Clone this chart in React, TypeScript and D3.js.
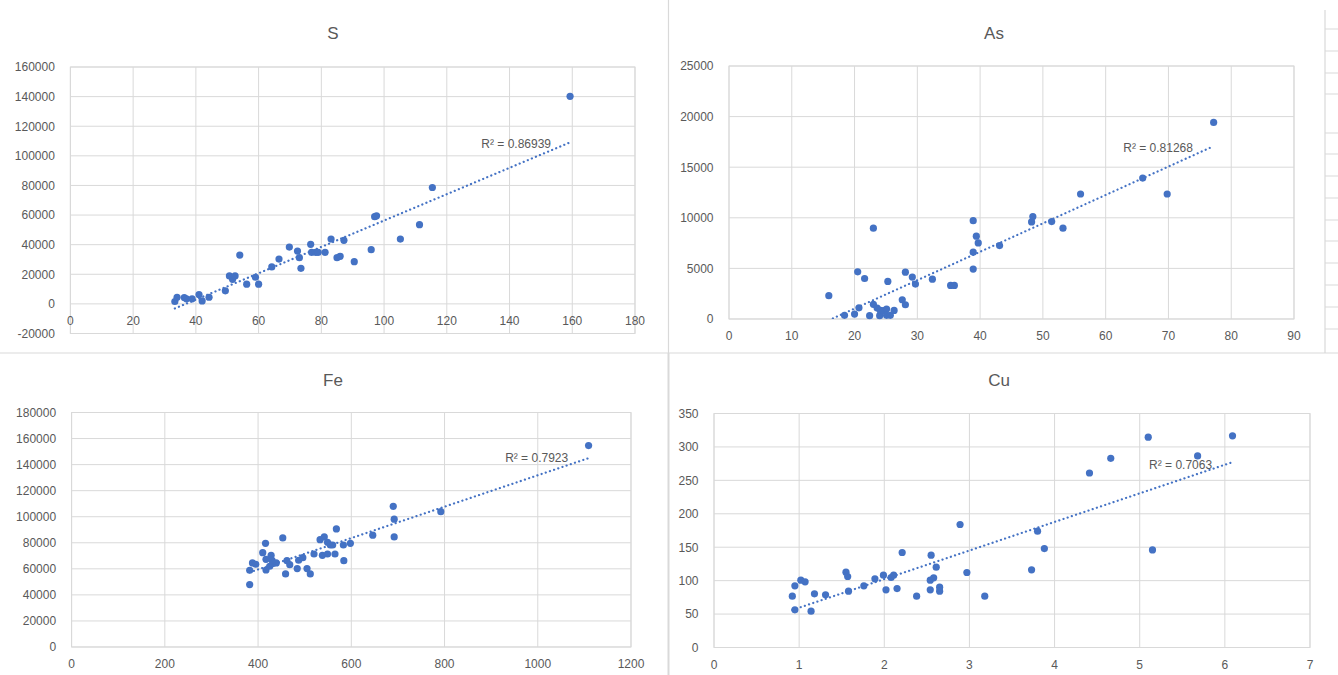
import React from "react";
import * as d3 from "d3";

// ---------- data ----------
const S_X = [33.3, 34, 36.3, 37, 38.8, 41, 42, 44.2, 49.4, 50.7, 51.7, 52.5, 54, 56.2, 59, 60, 64.2, 66.5, 69.8, 72.4, 73, 73.5, 76.6, 76.9, 78.2, 79, 81.2, 83.1, 85, 86, 87.2, 90.5, 95.9, 97, 97.6, 105.2, 111.3, 115.4, 159.3];
const S_Y = [1600, 4500, 4300, 3400, 3400, 6300, 2000, 4500, 8800, 18900, 16600, 18900, 33000, 13300, 18000, 13300, 25000, 30300, 38400, 35700, 31200, 24000, 40200, 34800, 34800, 34800, 34800, 43800, 31200, 32100, 42900, 28500, 36600, 58900, 59500, 43800, 53500, 78600, 140200];

const AS_X = [15.9, 18.4, 20, 20.5, 20.7, 21.6, 22.4, 23, 23, 23.6, 24, 24.1, 24.6, 25.1, 25.1, 25.3, 25.7, 26.3, 27.6, 28.1, 28.1, 29.2, 29.7, 32.4, 35.3, 35.9, 38.9, 38.9, 38.9, 39.4, 39.7, 43.1, 48.2, 48.4, 51.4, 53.2, 56, 65.9, 69.8, 77.2];
const AS_Y = [2300, 360, 490, 4660, 1100, 4000, 330, 8970, 1450, 1080, 330, 850, 820, 990, 360, 3710, 360, 850, 1900, 4630, 1410, 4140, 3450, 3940, 3320, 3320, 9720, 6600, 4930, 8180, 7520, 7260, 9590, 10120, 9630, 8970, 12350, 13930, 12350, 19420];

const FE_X = [382, 382, 388, 395, 410, 416, 417, 417, 425, 428, 430, 432, 439, 453, 459, 462, 468, 484, 487, 496, 505, 512, 520, 533, 538, 542, 549, 549, 555, 560, 565, 568, 583, 584, 598, 646, 690, 692, 692, 792, 1109];
const FE_Y = [47900, 58900, 64500, 63500, 72400, 79600, 59100, 67300, 62000, 70400, 66600, 64000, 64500, 83700, 56100, 66300, 63200, 60200, 66600, 68600, 60200, 56100, 71400, 82400, 70400, 84500, 80400, 71400, 78300, 78300, 71400, 90600, 78300, 66300, 79600, 85800, 108000, 98100, 84500, 103900, 154600];

const CU_X = [0.92, 0.95, 0.95, 1.02, 1.07, 1.14, 1.18, 1.31, 1.55, 1.57, 1.58, 1.76, 1.89, 1.99, 2.02, 2.08, 2.11, 2.15, 2.21, 2.38, 2.54, 2.54, 2.55, 2.58, 2.61, 2.65, 2.65, 2.89, 2.97, 3.18, 3.73, 3.8, 3.88, 4.41, 4.66, 5.1, 5.15, 5.68, 6.09];
const CU_Y = [76.8, 92.2, 56.3, 100.7, 98.2, 54.3, 80.3, 78.8, 112.7, 106.2, 84.2, 92.2, 102.7, 108.2, 86.2, 104.7, 108.2, 88.2, 142.1, 76.8, 100.7, 86.2, 138.1, 104.2, 120.1, 90.2, 84.2, 184, 112.2, 76.8, 116.2, 174, 148, 261, 283, 314.6, 146, 286.6, 316.6];

const TITLES = ["S", "As", "Fe", "Cu"];
const R2_LABELS = ["R² = 0.86939", "R² = 0.81268", "R² = 0.7923", "R² = 0.7063"];
const R2_POS: [number, number][] = [[131, 108000], [62.8, 16900], [930, 145000], [5.11, 274]];
const X_DOMAINS: [number, number][] = [[0, 180], [0, 90], [0, 1200], [0, 7]];
const Y_DOMAINS: [number, number][] = [[-20000, 160000], [0, 25000], [0, 180000], [0, 350]];
const X_STEPS = [20, 10, 200, 1];
const Y_STEPS = [20000, 5000, 20000, 50];

// ---------- layout ----------
const W = 1338, H = 675;
const PANELS = [
  { l: 70.4, r: 635, t: 67, b: 333.5, tx: 333, ty: 39 },
  { l: 729, r: 1294, t: 66, b: 319, tx: 994, ty: 39 },
  { l: 71.6, r: 631, t: 412.5, b: 647, tx: 333, ty: 386 },
  { l: 714, r: 1310, t: 413.5, b: 647.5, tx: 999, ty: 386 },
];
const SERIES = [[S_X, S_Y], [AS_X, AS_Y], [FE_X, FE_Y], [CU_X, CU_Y]];

const GRID = "#d9d9d9";
const TXT = "#595959";
const BLUE = "#4472C4";
const FONT = "'Liberation Sans', Arial, sans-serif";

function fit(xs: number[], ys: number[]) {
  const mx = d3.mean(xs)!, my = d3.mean(ys)!;
  let sxy = 0, sxx = 0;
  xs.forEach((x, i) => { sxy += (x - mx) * (ys[i] - my); sxx += (x - mx) * (x - mx); });
  const m = sxy / sxx;
  return { m, c: my - m * mx };
}

function Panel({ i }: { i: number }) {
  const p = PANELS[i];
  const [xs, ys] = SERIES[i];
  const x = d3.scaleLinear().domain(X_DOMAINS[i]).range([p.l, p.r]);
  const y = d3.scaleLinear().domain(Y_DOMAINS[i]).range([p.b, p.t]);
  const xt = d3.range(X_DOMAINS[i][0], X_DOMAINS[i][1] + X_STEPS[i] / 2, X_STEPS[i]);
  const yt = d3.range(Y_DOMAINS[i][0], Y_DOMAINS[i][1] + Y_STEPS[i] / 2, Y_STEPS[i]);
  const { m, c } = fit(xs, ys);
  const x0 = d3.min(xs)!, x1 = d3.max(xs)!;
  const line = d3.line<number>().x((v) => x(v)).y((v) => y(m * v + c));
  const labelRowY = Math.max(y(0), p.t) ; // x labels sit below the zero line
  const xLabelY = (Y_DOMAINS[i][0] < 0 ? y(0) : p.b) + 21;
  const clipId = `clip${i}`;
  return (
    <g>
      <defs>
        <clipPath id={clipId}>
          <rect x={p.l} y={p.t} width={p.r - p.l} height={p.b - p.t} />
        </clipPath>
      </defs>
      <text x={p.tx} y={p.ty} textAnchor="middle" fontSize={17} fill={TXT} fontFamily={FONT}>{TITLES[i]}</text>
      {xt.map((v) => (
        <line key={"gx" + v} x1={x(v)} x2={x(v)} y1={p.t} y2={p.b} stroke={GRID} strokeWidth={1} />
      ))}
      {yt.map((v) => (
        <line key={"gy" + v} x1={p.l} x2={p.r} y1={y(v)} y2={y(v)} stroke={GRID} strokeWidth={1} />
      ))}
      <rect x={p.l} y={p.t} width={p.r - p.l} height={p.b - p.t} fill="none" stroke={GRID} strokeWidth={1} />
      {yt.map((v) => (
        <text key={"ly" + v} x={p.l - 15.5} y={y(v) + 4.3} textAnchor="end" fontSize={12} fill={TXT} fontFamily={FONT}>{v}</text>
      ))}
      {xt.map((v) => (
        <text key={"lx" + v} x={x(v)} y={xLabelY} textAnchor="middle" fontSize={12} fill={TXT} fontFamily={FONT}>{v}</text>
      ))}
      {xs.map((xv, k) => (
        <circle key={"p" + k} cx={x(xv)} cy={y(ys[k])} r={3.6} fill={BLUE} />
      ))}
      <path d={line([x0, x1]) || ""} fill="none" stroke={BLUE} strokeWidth={2.2} strokeDasharray="0.1 4.3" strokeLinecap="round" clipPath={`url(#${clipId})`} />
      <text x={x(R2_POS[i][0])} y={y(R2_POS[i][1]) + 4.3} fontSize={12} fill={TXT} fontFamily={FONT}>{R2_LABELS[i]}</text>
    </g>
  );
}

const SHEET_TICKS = [29, 51, 73, 94, 133, 154, 176, 198, 220, 241, 263, 285, 307, 329];

export default function App() {
  return (
    <svg width={W} height={H} style={{ position: "absolute", left: 0, top: 0, background: "#fff" }}>
      <rect x={0} y={0} width={W} height={H} fill="#fff" />
      {/* frame / divider lines */}
      <line x1={668.5} x2={668.5} y1={0} y2={353} stroke={GRID} strokeWidth={1.2} />
      <line x1={668.5} x2={668.5} y1={353} y2={H} stroke={GRID} strokeWidth={2} />
      <line x1={0} x2={1338} y1={353} y2={353} stroke={GRID} strokeWidth={1.2} />
      <line x1={1325} x2={1325} y1={10} y2={353} stroke={GRID} strokeWidth={1.2} />
      {SHEET_TICKS.map((t) => (
        <line key={t} x1={1325} x2={1338} y1={t} y2={t} stroke={GRID} strokeWidth={1} />
      ))}
      {PANELS.map((_, i) => <Panel key={i} i={i} />)}
    </svg>
  );
}
